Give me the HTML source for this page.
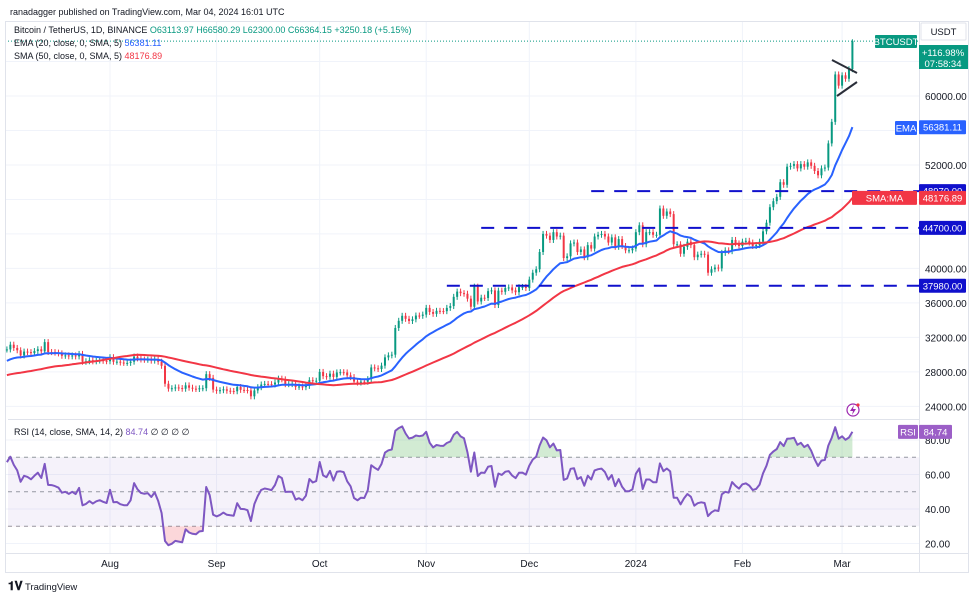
<!DOCTYPE html>
<html><head><meta charset="utf-8"><style>
html,body{margin:0;padding:0;background:#fff;}
svg{display:block;font-family:"Liberation Sans",sans-serif;}
</style></head><body>
<svg id="c" width="977" height="600" viewBox="0 0 977 600">
<text x="10" y="15" font-size="9" fill="#131722">ranadagger published on TradingView.com, Mar 04, 2024 16:01 UTC</text>
<rect x="5.5" y="21.5" width="963" height="551" fill="#fff" stroke="#e0e3eb"/>
<g id="grid"></g>
<rect x="8" y="419" width="911" height="1" fill="#e0e3eb"/>
<rect x="919" y="22" width="1" height="551" fill="#e0e3eb"/>
<rect x="6" y="553" width="962" height="1" fill="#e0e3eb"/>
<g id="rsiPane"></g>
<g id="main"></g>
<g id="axes"></g>
<g font-size="9">
<text x="14" y="33" fill="#131722">Bitcoin / TetherUS, 1D, BINANCE <tspan fill="#089981">O63113.97 H66580.29 L62300.00 C66364.15 +3250.18 (+5.15%)</tspan></text>
<text x="14" y="46" fill="#131722">EMA (20, close, 0, SMA, 5) <tspan fill="#2962ff">56381.11</tspan></text>
<text x="14" y="59" fill="#131722">SMA (50, close, 0, SMA, 5) <tspan fill="#f23645">48176.89</tspan></text>
<text x="14" y="435" fill="#131722">RSI (14, close, SMA, 14, 2) <tspan fill="#7e57c2">84.74</tspan> ∅ ∅ ∅ ∅</text>
</g>
<g>
<text x="8" y="590" font-size="12" font-weight="bold" fill="#131722">𝟏𝐕</text>
<text x="25" y="590" font-size="9.5" fill="#131722">TradingView</text>
</g>
<g>
<circle cx="853" cy="410" r="6" fill="#fff" stroke="#9c27b0" stroke-width="1.2"/>
<path d="M854 405 L850 411 L853 411 L852 415 L856 409 L853 409 Z" fill="#9c27b0"/>
<circle cx="858" cy="405" r="1.6" fill="#f23645"/>
</g>
</svg>
<script>
// warm-up closes (May 13 - Jul 1 2023) for indicators
const warmupCloses=[26800,26920,27170,27030,27400,26830,26890,27110,26750,26850,27220,26330,26480,26720,26860,28080,27750,27700,27220,26820,27250,27080,27120,25730,27230,26340,26480,26480,25850,25940,25900,25920,25120,25580,26340,26520,26340,26840,28310,30090,29890,30690,30530,30470,30270,30690,30080,30450,30470,30590];
const julCloses=[30600,31150,30770,30500,29900,30350,30290,30170,30410,30620,30380,31450,30300,30290,30230,30140,29860,29910,29800,29900,29790,30080,29170,29230,29350,29220,29310,29350,29280,29230];
const augCloses=[29700,29170,29180,29080,29040,29040,29180,29770,29560,29430,29400,29420,29300,29430,29170,28700,26620,26050,26100,26190,26120,26040,26430,26160,26050,26010,26090,26100,27730,27300,25940];
const sepCloses=[25800,25870,25970,25810,25780,25750,26240,25910,25900,25840,25160,25840,26220,26530,26600,26570,26530,26760,27210,27130,26570,26580,26580,26250,26300,26220,26370,27030,26910,26970];
const octCloses=[27990,27500,27430,27790,27410,27930,27960,27930,27590,27390,26870,26760,26860,26850,27150,28510,28410,28330,28720,29680,29910,29990,33090,33920,34500,34150,33900,34090,34530,34500,34640];
const novCloses=[35420,34940,34730,35080,35050,35040,35420,35630,36700,37310,37130,37060,36490,35550,37880,36160,36600,36570,37360,37450,35750,37420,37290,37720,37790,37450,37240,37830,37850,37720];
const decCloses=[38700,39500,39900,41900,44000,43800,43300,44200,43700,43800,41200,41400,42900,43000,41900,42200,41300,42700,42300,43700,43900,44000,43700,43000,43600,42500,43400,42600,42100,42100,42300];
const janCloses=[44200,45000,42800,44200,44200,43900,43900,46950,46100,46600,46300,42800,42800,41700,42500,43100,42700,41300,41600,41700,41600,39500,39900,40100,40000,41800,42100,42000,43300,42900,42600];
const febCloses=[43100,43200,43000,42600,42700,43100,44300,45300,47100,47800,48300,50000,49700,51800,51900,52100,51600,52100,51800,52300,51900,51300,50800,51600,51700,54500,57000,62500,61200];
const marCloses=[62400,62000,63114,66364];
const lastHigh=66580;
const priceTicks=[24000,28000,32000,36000,40000,52000,60000];
const priceGrid=[24000,28000,32000,36000,40000,44000,48000,52000,56000,60000,64000];
const rsiTicks=[20,40,60,80];
const monthLabels=["Aug","Sep","Oct","Nov","Dec","2024","Feb","Mar"];
const monthIndex=[30,61,91,122,152,183,214,243];
const levels=[48970,44700,37980];
const levelStart=[170,138,128];
const emaLast=56381.11, smaLast=48176.89, rsiLast=84.74;

const closes=[].concat(julCloses,augCloses,sepCloses,octCloses,novCloses,decCloses,janCloses,febCloses,marCloses);
const all=warmupCloses.concat(closes);
const W=warmupCloses.length;
const NS="http://www.w3.org/2000/svg";
const xOf=i=>6.9+i*3.437;
const yP=p=>96+(60000-p)*0.00862;
const yR=v=>440+(80-v)*1.725;
function mk(tag,attrs,parent){const e=document.createElementNS(NS,tag);for(const k in attrs)e.setAttribute(k,attrs[k]);parent.appendChild(e);return e;}
const grid=document.getElementById('grid'),main=document.getElementById('main'),rp=document.getElementById('rsiPane'),axes=document.getElementById('axes');

priceGrid.forEach(p=>{const l=mk('line',{x1:6,x2:919,y1:yP(p),y2:yP(p),stroke:'#f0f3fa'},grid);

});
rsiTicks.forEach(v=>{const l=mk('line',{x1:6,x2:919,y1:yR(v),y2:yR(v),stroke:'#f0f3fa'},grid);

});
monthIndex.forEach(i=>{const l=mk('line',{x1:xOf(i),x2:xOf(i),y1:22,y2:553,stroke:'#f0f3fa'},grid);

});

const ema=[];let e=0;
for(let i=0;i<all.length;i++){if(i<20){e+=all[i];if(i==19){e/=20;}ema.push(i==19?e:null);}else{e=all[i]*2/21+e*19/21;ema.push(e);}}
const sma=[];for(let i=0;i<all.length;i++){if(i<49){sma.push(null);continue;}let s=0;for(let j=i-49;j<=i;j++)s+=all[j];sma.push(s/50);}
const rsi=[];let ag=0,al=0;
for(let i=1;i<all.length;i++){const d=all[i]-all[i-1],g=Math.max(d,0),l=Math.max(-d,0);
if(i<=14){ag+=g/14;al+=l/14;}else{ag=(ag*13+g)/14;al=(al*13+l)/14;}rsi.push(100-100/(1+ag/(al||1e-9)));}

for(let i=0;i<closes.length;i++){
  const c=closes[i],o=i==0?all[W-1]:closes[i-1],up=c>=o,col=up?'#089981':'#f23645';
  const hi=Math.max(o,c),lo=Math.min(o,c),x=xOf(i);
  const hiY=i==closes.length-1?yP(lastHigh):yP(hi)-3;
  const w=mk('line',{x1:x,x2:x,y1:hiY,y2:yP(lo)+3,stroke:col,'stroke-width':1},main);
  
  
  const b=mk('rect',{x:x-1,y:yP(hi),width:2,height:Math.max(1,yP(lo)-yP(hi)),fill:col},main);
  
  
}
function line(vals,yf,col,name,parent){let d='';for(let i=0;i<closes.length;i++){const v=vals[i];if(v==null)continue;d+=(d?'L':'M')+xOf(i).toFixed(1)+' '+yf(v).toFixed(1);}
const p=mk('path',{d:d,fill:'none',stroke:col,'stroke-width':2,'stroke-linejoin':'round'},parent);

return d;}
line(ema.slice(W),yP,'#2962ff','ema-20-line',main);
line(sma.slice(W),yP,'#f23645','sma-50-line',main);

levels.forEach((p,k)=>{const l=mk('line',{x1:xOf(levelStart[k]),x2:919,y1:yP(p),y2:yP(p),stroke:'#1010cc','stroke-width':2,'stroke-dasharray':'13 10'},main);

});
const t1=mk('line',{x1:832,y1:60,x2:857,y2:73,stroke:'#2a2e39','stroke-width':2},main);


const t2=mk('line',{x1:837,y1:96,x2:857,y2:82,stroke:'#2a2e39','stroke-width':2},main);


const cp=mk('line',{x1:8,x2:919,y1:yP(closes[closes.length-1]),y2:yP(closes[closes.length-1]),stroke:'#089981','stroke-dasharray':'1 2'},main);



const band=mk('rect',{x:8,y:yR(70),width:911,height:yR(30)-yR(70),fill:'#7e57c2','fill-opacity':0.08},rp);


[70,50,30].forEach(v=>{const l=mk('line',{x1:8,x2:919,y1:yR(v),y2:yR(v),stroke:'#9598a1','stroke-dasharray':'4 4'},rp);

});
const rv=rsi.slice(W-1);
let ptsD='';for(let i=0;i<closes.length;i++)ptsD+=(ptsD?'L':'M')+xOf(i).toFixed(1)+' '+yR(rv[i]).toFixed(1);
const defs=mk('defs',{},rp);
const c1=mk('clipPath',{id:'ob'},defs);mk('rect',{x:0,y:0,width:977,height:yR(70)},c1);
const c2=mk('clipPath',{id:'os'},defs);mk('rect',{x:0,y:yR(30),width:977,height:100},c2);
const gA=mk('path',{d:ptsD+'L'+xOf(closes.length-1)+' '+yR(70)+'L'+xOf(0)+' '+yR(70)+'Z',fill:'#4caf50','fill-opacity':0.25,'clip-path':'url(#ob)'},rp);


const rA=mk('path',{d:ptsD+'L'+xOf(closes.length-1)+' '+yR(30)+'L'+xOf(0)+' '+yR(30)+'Z',fill:'#f23645','fill-opacity':0.2,'clip-path':'url(#os)'},rp);


const rl=mk('path',{d:ptsD,fill:'none',stroke:'#7e57c2','stroke-width':2,'stroke-linejoin':'round'},rp);



function txt(x,y,s,col,parent,name,anchor,size){const t=mk('text',{x:x,y:y,fill:col,'font-size':size||10,'text-anchor':anchor||'start'},parent);t.textContent=s;

return t;}
priceTicks.forEach(p=>txt(925,yP(p)+4,p.toFixed(2),'#131722',axes,'price-tick-label'));
rsiTicks.forEach(v=>txt(925,yR(v)+4,v.toFixed(2),'#131722',axes,'rsi-tick-label'));
monthLabels.forEach((m,k)=>txt(xOf(monthIndex[k]),567,m,'#131722',axes,'time-tick-label','middle'));
function tag(x,y,w,h,fill,s,name,col,stroke){const r=mk('rect',{x:x,y:y,width:w,height:h,fill:fill,rx:1},axes);if(stroke){r.setAttribute('stroke',stroke);}


txt(x+w/2,y+h/2+3.5,s,col||'#fff',axes,name+'-text','middle',9.5);}
tag(921,23,45,17,'#fff','USDT','currency-button','#131722','#e0e3eb');
tag(875,35,42,13,'#089981','BTCUSDT','symbol-tag');
const pr=mk('rect',{x:919,y:45,width:49,height:24,fill:'#089981'},axes);


txt(943,56,'+116.98%','#fff',axes,'change-percent','middle',9.5);
txt(943,67,'07:58:34','#fff',axes,'countdown','middle',9.5);
tag(895,121,22,14,'#2962ff','EMA','ema-tag');
tag(919,yP(emaLast)-7,47,14,'#2962ff',emaLast.toFixed(2),'ema-value-tag');
levels.forEach(p=>tag(919,yP(p)-7,47,14,'#1010cc',p.toFixed(2),'level-value-tag'));
tag(852,yP(smaLast)-7,65,14,'#f23645','SMA:MA','sma-tag');
tag(919,yP(smaLast)-7,47,14,'#f23645',smaLast.toFixed(2),'sma-value-tag');
tag(898,yR(rsiLast)-7,20,14,'#9c5fc7','RSI','rsi-tag');
tag(919,yR(rsiLast)-7,33,14,'#9c5fc7',rsiLast.toFixed(2),'rsi-value-tag');
</script>
</body></html>
